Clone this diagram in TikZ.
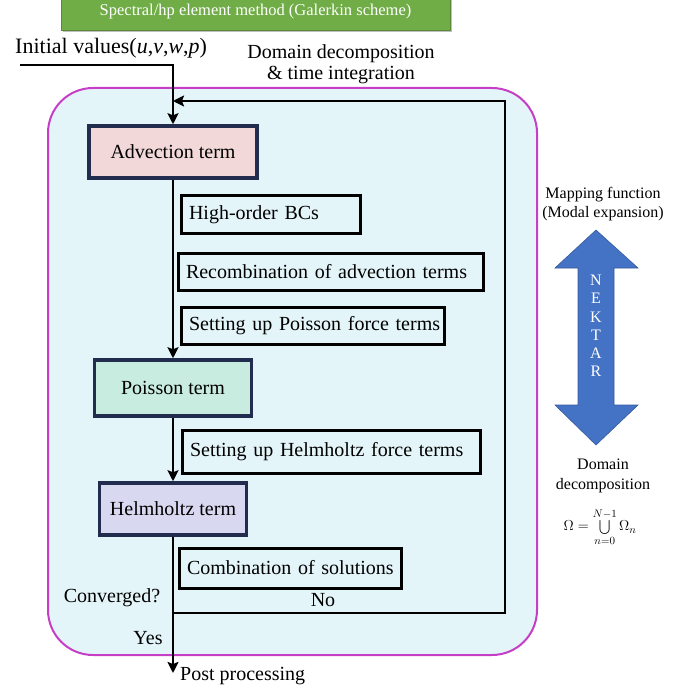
\documentclass[tikz,border=0pt]{standalone}
\usepackage{fontspec}
\setmainfont{Liberation Serif}
\usetikzlibrary{arrows.meta, positioning, shadows, calc}
\definecolor{FrameMagenta}{RGB}{198,62,198}
\definecolor{FrameFill}{RGB}{228,245,250}
\definecolor{BoxNavy}{RGB}{34,44,78}
\definecolor{AdvPink}{RGB}{242,216,216}
\definecolor{PoisGreen}{RGB}{200,236,224}
\definecolor{HelmLilac}{RGB}{216,216,240}
\definecolor{BannerGreen}{RGB}{112,173,71}
\definecolor{NektarBlue}{RGB}{68,114,196}

\begin{document}
\begin{tikzpicture}[x=1pt, y=-1pt,
	term/.style={rectangle, draw=BoxNavy, line width=3.5pt, align=center,
		font=\fontsize{20}{24}\selectfont, inner sep=0pt},
	stepbox/.style={rectangle, draw=black, line width=3pt, align=left,
		font=\fontsize{20}{24}\selectfont, inner xsep=8pt, inner ysep=0pt},
	lbl/.style={font=\fontsize{20}{24}\selectfont, inner sep=0pt},
	side/.style={font=\fontsize{16}{19}\selectfont, align=center, inner sep=0pt},
	flow/.style={line width=2.6pt, -{Stealth[length=11pt, width=11pt, inset=2pt]}}]
	\useasboundingbox (0,0) rectangle (694,690);

	% banner
	\node[rectangle, fill=BannerGreen, draw=BannerGreen!80!black, drop shadow,
		minimum width=389pt, minimum height=36pt, text=white,
		font=\fontsize{16.5}{20}\selectfont] (banner) at (255.5,12)
		{Spectral/hp element method (Galerkin scheme)};

	% frame
	\node[rectangle, draw=FrameMagenta, line width=2pt, fill=FrameFill,
		rounded corners=45pt, minimum width=489pt, minimum height=567pt] (frame) at (292.5,371.5) {};

	\node[anchor=west, font=\fontsize{22}{26}\selectfont, inner sep=0pt] (init) at (15,48)
		{Initial values(\textit{u},\textit{v},\textit{w},\textit{p})};
	\node[align=center, font=\fontsize{20}{21}\selectfont, inner sep=0pt] (ddti) at (341,64)
		{Domain decomposition\\\& time integration};

	% main terms
	\node[term, fill=AdvPink, minimum width=168pt, minimum height=52pt] (adv) at (173,152) {Advection term};
	\node[term, fill=PoisGreen, minimum width=157pt, minimum height=56pt] (pois) at (173,388) {Poisson term};
	\node[term, fill=HelmLilac, minimum width=147pt, minimum height=52pt] (helm) at (173,509) {Helmholtz term};

	% intermediate steps
	\node[stepbox, text width=163pt, minimum height=37pt] (hobc) at (270.5,214.5) {\mbox{High-order BCs}};
	\node[stepbox, text width=289pt, minimum height=37pt] (recomb) at (330.5,271.5) {\mbox{Recombination of advection terms}};
	\node[stepbox, text width=247pt, minimum height=37pt] (poisf) at (312.5,325.5) {\mbox{Setting up Poisson force terms}};
	\node[stepbox, text width=282pt, minimum height=43pt] (helmf) at (331,451.5) {\mbox{Setting up Helmholtz force terms}};
	\node[stepbox, text width=206pt, minimum height=40pt] (combo) at (290,568) {\mbox{Combination of solutions}};

	\coordinate (start) at (20,65);
	\coordinate (ret) at (173,101);
	\coordinate (split) at (173,613);
	\coordinate (finish) at (173,673);

	\draw[flow] (start) -| (adv.north);
	\draw[flow] (adv) -- (pois);
	\draw[flow] (pois) -- (helm);
	\draw[flow] (helm) -- (finish);
	\draw[flow] (split) -- ++(332,0) |- (ret);

	\node[lbl] (conv) at (112,598) {Converged?};
	\node[lbl] (no) at (323,600) {No};
	\node[lbl] (yes) at (148,638) {Yes};
	\node[lbl, anchor=west] (post) at (180,676) {Post processing};

	% NEKTAR arrow
	\draw[fill=NektarBlue, draw=NektarBlue!80!black, line width=0.6pt]
		(596,230) -- (638,268) -- (614,268) -- (614,405) -- (638,405) -- (596,445)
		-- (555,405) -- (578,405) -- (578,268) -- (555,268) -- cycle;
	\node[side, text=white, font=\fontsize{16}{18.2}\selectfont] (nektar) at (596,326) {N\\E\\K\\T\\A\\R};

	\node[side] (mapf) at (603,204) {Mapping function\\(Modal expansion)};
	\node[side, font=\fontsize{16}{20}\selectfont] (ddec) at (603,476) {Domain\\decomposition};
	\node[side, font=\fontsize{15}{18}\selectfont] (union) at (600,527)
		{$\displaystyle\Omega=\bigcup_{n=0}^{N-1}\Omega_n$};
\end{tikzpicture}
\end{document}
